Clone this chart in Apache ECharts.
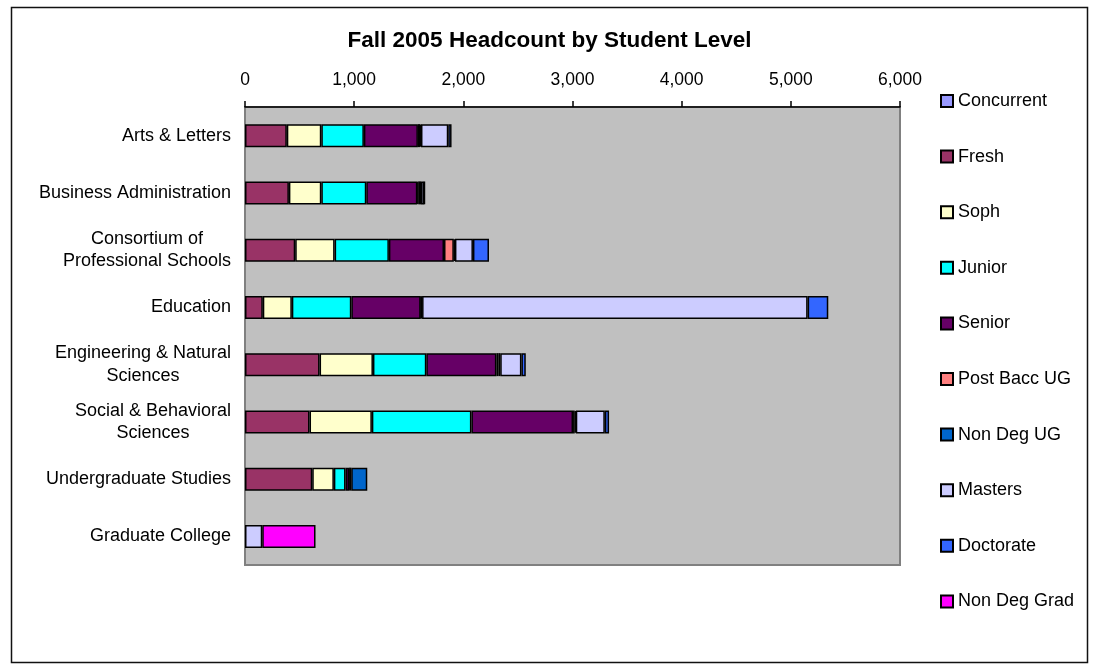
<!DOCTYPE html>
<html>
<head>
<meta charset="utf-8">
<script src="https://cdn.jsdelivr.net/npm/echarts@6/dist/echarts.min.js"></script>
<style>
html,body{margin:0;padding:0;background:#fff;}
#chart{width:1099px;height:670px;}
</style>
</head>
<body>
<div id="chart"></div>
<script>
var categories = ['Arts & Letters','Business Administration','Consortium of\nProfessional Schools','Education','Engineering & Natural\nSciences','Social & Behavioral\nSciences','Undergraduate Studies','Graduate College'];
var seriesNames = ['Concurrent','Fresh','Soph','Junior','Senior','Post Bacc UG','Non Deg UG','Masters','Doctorate','Non Deg Grad'];
var concurrent = [0,0,0,0,0,0,0,0];
var fresh      = [383,402,460,163,683,591,616,0];
var soph       = [316,297,361,266,489,571,198,0];
var junior     = [390,412,497,545,489,912,107,0];
var senior     = [495,468,505,635,642,931,32,0];
var postBaccUG = [20,8,90,5,20,15,20,0];
var nonDegUG   = [8,25,10,8,15,10,147,0];
var masters    = [250,30,165,3532,194,266,0,158];
var doctorate  = [30,4,147,189,40,39,0,0];
var nonDegGrad = [0,0,0,0,0,0,0,488];
var xTicks = [0,1000,2000,3000,4000,5000,6000];
var colors = ['#9999FF','#993366','#FFFFCC','#00FFFF','#660066','#FF8080','#0066CC','#CCCCFF','#3366FF','#FF00FF'];

var allData = [concurrent,fresh,soph,junior,senior,postBaccUG,nonDegUG,masters,doctorate,nonDegGrad];
var FONT = 'Liberation Sans, Arial, sans-serif';

var chart = echarts.init(document.getElementById('chart'), null, {renderer:'canvas'});
var series = seriesNames.map(function(name, i){
  return {
    name: name,
    type: 'bar',
    stack: 'total',
    barWidth: 23,
    data: allData[i].map(function(v){ return v === 0 ? null : v; }),
    itemStyle: { color: colors[i], borderColor: '#000', borderWidth: 1.5 },
    emphasis: { disabled: true }
  };
});

chart.setOption({
  animation: false,
  backgroundColor: '#fff',
  textStyle: { fontFamily: FONT },
  title: {
    text: 'Fall 2005 Headcount by Student Level',
    left: 'center', top: 29, padding: 0,
    textStyle: { fontFamily: FONT, fontSize: 22.5, fontWeight: 'bold', color: '#000' }
  },
  legend: {
    orient: 'vertical',
    left: 940, top: 92, padding: 0,
    itemWidth: 12, itemHeight: 12,
    itemGap: 37.6,
    itemTextGap: 5,
    icon: 'rect',
    textStyle: { fontFamily: FONT, fontSize: 18, color: '#000' },
    data: seriesNames
  },
  grid: {
    left: 245, right: 199, top: 107, bottom: 105,
    show: true, backgroundColor: '#C0C0C0', borderColor: '#808080', borderWidth: 2,
    containLabel: false
  },
  xAxis: {
    type: 'value', position: 'top',
    min: xTicks[0], max: xTicks[xTicks.length-1], interval: 1000,
    axisLine: { show: true, lineStyle: { color: '#000', width: 1.5 } },
    axisTick: { show: true, inside: false, length: 6, lineStyle: { color: '#000', width: 1.5 } },
    splitLine: { show: false },
    axisLabel: {
      margin: 18, color: '#000', fontFamily: FONT, fontSize: 17.5,
      formatter: function(v){ return v.toString().replace(/\B(?=(\d{3})+(?!\d))/g, ','); }
    }
  },
  yAxis: {
    type: 'category', inverse: true, data: categories,
    axisLine: { show: false },
    axisTick: { show: false },
    axisLabel: {
      margin: 14, color: '#000', fontFamily: FONT, fontSize: 18, lineHeight: 22.5,
      formatter: function(v){
        return v.split('\n').map(function(line){ return '{c|' + line + '}'; }).join('\n');
      },
      rich: { c: { align: 'center', fontFamily: FONT, fontSize: 18, lineHeight: 22.5, color: '#000' } }
    }
  },
  graphic: [{
    type: 'rect', silent: true, z: 100,
    shape: { x: 11.5, y: 7.5, width: 1076, height: 655 },
    style: { fill: null, stroke: '#111', lineWidth: 1.5 }
  }],
  series: series
});
</script>
</body>
</html>
